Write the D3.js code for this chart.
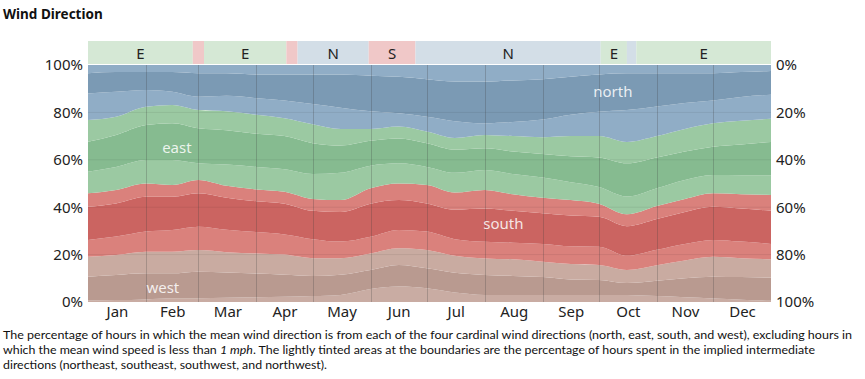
<!DOCTYPE html>
<html><head><meta charset="utf-8">
<script src="https://cdn.jsdelivr.net/npm/d3@7/dist/d3.min.js"></script>
<style>
html,body{margin:0;padding:0;background:#fff;}
svg{display:block;font-family:"Noto Sans","Open Sans",sans-serif;}
</style></head>
<body>
<svg id="chart" width="865" height="379"></svg>
<script>
// ---- data (percent of hours) ----
const days = [0,15,31,45,59,74,90,105,120,135,151,166,181,196,212,227,243,258,273,288,304,319,334,349,365];
// bottom to top of the stack
const northwestWest  = [0.6,0.8,1.1,1.6,1.6,1.8,2.0,2.2,2.5,3.0,5.5,6.5,5.8,4.0,3.0,3.0,3.0,3.0,3.0,3.0,2.5,2.0,1.5,1.0,0.5];
const west           = [10.1,10.6,11.0,10.5,11.2,10.7,10.0,9.3,8.5,8.5,8.0,9.1,8.4,8.3,8.4,8.0,7.5,6.5,6.3,5.0,6.5,8.0,9.2,9.5,9.8];
const southwestWest  = [8.4,8.4,9.1,9.1,9.1,8.5,8.5,8.5,7.5,7.0,7.0,7.1,7.7,7.2,7.0,7.0,6.5,6.5,6.3,5.5,6.5,7.5,8.4,8.0,7.7];
const southwestSouth = [7.1,7.8,8.5,9.2,9.9,9.5,9.0,8.5,8.0,7.0,7.0,7.7,7.8,7.0,7.0,7.0,7.5,7.5,7.7,6.0,6.5,7.0,7.1,7.0,6.5];
const south          = [14.0,14.0,14.7,14.0,14.1,13.5,13.0,13.0,12.0,12.5,14.0,12.6,11.9,12.5,14.1,13.5,13.0,13.0,12.7,12.5,13.0,13.5,14.0,14.0,14.0];
const southeastSouth = [5.7,5.7,5.6,5.0,5.6,5.0,5.0,5.0,5.0,5.0,6.5,7.0,7.8,7.2,7.8,7.0,6.5,6.5,5.5,5.0,5.5,5.5,5.7,6.0,6.7];
const southeastEast  = [9.1,9.7,9.9,10.5,7.0,9.0,9.5,9.5,10.5,11.5,9.5,8.5,7.6,8.3,8.4,8.5,8.5,7.5,7.0,7.5,7.5,8.0,7.7,8.0,8.3];
const east           = [12.6,13.5,14.8,15.5,14.8,14.5,14.0,14.0,13.0,11.5,10.5,10.5,10.0,9.8,9.2,9.5,10.0,11.0,12.5,14.0,13.0,12.0,11.9,13.0,14.0];
const northeastEast  = [9.2,7.7,7.7,7.7,7.7,8.0,8.0,7.5,8.0,7.0,5.0,5.0,4.9,4.9,5.6,6.5,7.0,8.5,9.0,9.0,9.0,9.5,9.9,10.0,9.8];
const northeastNorth = [11.2,10.5,7.1,5.6,5.6,6.5,7.0,7.5,8.5,9.0,7.5,5.6,6.3,7.1,4.9,6.0,7.5,9.0,10.3,13.5,12.5,11.0,9.6,10.0,10.2];
const north          = [8.5,8.3,7.5,8.3,9.9,9.5,10.0,11.0,12.5,14.0,15.0,15.4,15.8,16.7,17.6,17.5,17.0,16.0,15.7,15.5,14.0,12.5,11.5,10.5,10.0];
const northwestNorth = [3.5,3.0,3.0,3.0,3.5,3.5,4.0,4.0,4.0,4.0,4.5,5.0,6.0,7.0,7.0,6.5,6.0,5.0,4.0,3.5,3.5,3.5,3.5,3.0,2.5];

const months = ["Jan","Feb","Mar","Apr","May","Jun","Jul","Aug","Sep","Oct","Nov","Dec"];
const monthStarts = [0,31,59,90,120,151,181,212,243,273,304,334,365];
const yTicks = [0,20,40,60,80,100];

// dominant direction band
const bandStart = [0,56,62,106,112,150,175,274,288,293];
const bandEnd   = [56,62,106,112,150,175,274,288,293,365];
const bandDir   = ["E","S","E","S","N","S","N","E","N","E"];

// area labels
const labelText = ["north","east","south","west"];
const labelDay  = [280.5,47.5,222,40];
const labelPct  = [89,65.4,33.3,6.3];

// ---- styles ----
const layerKeys = ["northwestWest","west","southwestWest","southwestSouth","south","southeastSouth",
                   "southeastEast","east","northeastEast","northeastNorth","north","northwestNorth"];
const layerData = {northwestWest,west,southwestWest,southwestSouth,south,southeastSouth,
                   southeastEast,east,northeastEast,northeastNorth,north,northwestNorth};
const layerColor = {
  northwestWest:"#c9aca3", west:"#b99a90", southwestWest:"#c9aba1",
  southwestSouth:"#da817c", south:"#cb6461", southeastSouth:"#da817c",
  southeastEast:"#9bc9a2", east:"#86bb90", northeastEast:"#9bc9a2",
  northeastNorth:"#90adc6", north:"#7b9ab4", northwestNorth:"#90adc6"
};
const bandColor = {E:"#d5e8d5", S:"#f0c8c8", N:"#d3dee7"};

const svg = d3.select("#chart");
const X0 = 88, X1 = 771, Y0 = 302, Y1 = 65;
const x = d3.scaleLinear().domain([0,365]).range([X0,X1]);
const y = d3.scaleLinear().domain([0,100]).range([Y0,Y1]);
const yR = d3.scaleLinear().domain([0,100]).range([Y1,Y0]);

const table = days.map((d,i)=>{
  const r = {day:d};
  layerKeys.forEach(k=>r[k]=layerData[k][i]);
  return r;
});
const series = d3.stack().keys(layerKeys)(table);
const area = d3.area()
  .x(d=>x(d.data.day)).y0(d=>y(d[0])).y1(d=>y(d[1]))
  .curve(d3.curveMonotoneX);

svg.append("g").selectAll("path").data(series).join("path")
  .attr("d",area).attr("fill",d=>layerColor[d.key]);

// grid
svg.append("g").selectAll("line").data(yTicks.filter(t=>t>0&&t<100)).join("line")
  .attr("x1",X0).attr("x2",X1).attr("y1",d=>y(d)).attr("y2",d=>y(d))
  .attr("stroke","rgba(0,0,0,0.07)").attr("stroke-width",1);
svg.append("g").selectAll("line").data(monthStarts.slice(1,-1)).join("line")
  .attr("x1",d=>Math.round(x(d))+0.5).attr("x2",d=>Math.round(x(d))+0.5)
  .attr("y1",Y1).attr("y2",Y0)
  .attr("stroke","rgba(60,60,60,0.25)").attr("stroke-width",1);

// area labels
svg.append("g").selectAll("text").data(labelText).join("text")
  .attr("x",(d,i)=>x(labelDay[i])).attr("y",(d,i)=>y(labelPct[i]))
  .attr("text-anchor","middle").attr("dominant-baseline","central")
  .attr("font-size",15).attr("fill","rgba(255,255,255,0.85)").text(d=>d);

// top band
const band = svg.append("g");
band.selectAll("rect").data(bandDir).join("rect")
  .attr("x",(d,i)=>x(bandStart[i])).attr("width",(d,i)=>x(bandEnd[i])-x(bandStart[i]))
  .attr("y",41).attr("height",23).attr("fill",d=>bandColor[d]);
bandDir.forEach((d,i)=>{
  const w = x(bandEnd[i])-x(bandStart[i]);
  if (w>20) band.append("text")
    .attr("x",(x(bandStart[i])+x(bandEnd[i]))/2).attr("y",52.5)
    .attr("text-anchor","middle").attr("dominant-baseline","central")
    .attr("font-size",15).attr("fill","#222").text(d);
});

// axes
const fmt = d=>d+"%";
const gl = svg.append("g").attr("transform",`translate(${X0},0)`)
  .call(d3.axisLeft(y).tickValues(yTicks).tickFormat(fmt).tickSize(0).tickPadding(5));
const gr = svg.append("g").attr("transform",`translate(${X1},0)`)
  .call(d3.axisRight(yR).tickValues(yTicks).tickFormat(fmt).tickSize(0).tickPadding(5));
const monthMid = months.map((m,i)=>(monthStarts[i]+monthStarts[i+1])/2);
const gb = svg.append("g").attr("transform",`translate(0,${Y0})`)
  .call(d3.axisBottom(x).tickValues(monthMid).tickFormat((d,i)=>months[i]).tickSize(0).tickPadding(4));
[gl,gr,gb].forEach(g=>{
  g.select(".domain").remove();
  g.selectAll("text").attr("font-size",15).attr("fill","#222")
   .attr("font-family","'Noto Sans','Open Sans',sans-serif");
});

// title
svg.append("text").attr("x",3).attr("y",19).attr("font-size",13.5)
  .attr("font-weight","bold").attr("fill","#111").text("Wind Direction");

// caption
const cap = svg.append("g").attr("font-size",12).attr("fill","#111")
  .attr("font-family","Lato,'Noto Sans',sans-serif");
const l1 = cap.append("text").attr("x",3).attr("y",339)
  .text("The percentage of hours in which the mean wind direction is from each of the four cardinal wind directions (north, east, south, and west), excluding hours in");
const l2 = cap.append("text").attr("x",3).attr("y",354);
l2.append("tspan").text("which the mean wind speed is less than ");
l2.append("tspan").attr("font-style","italic").text("1 mph");
l2.append("tspan").text(". The lightly tinted areas at the boundaries are the percentage of hours spent in the implied intermediate");
const l3 = cap.append("text").attr("x",3).attr("y",369)
  .text("directions (northeast, southeast, southwest, and northwest).");
[[l1,849],[l2,812],[l3,324]].forEach(([t,w])=>{
  t.attr("textLength",w).attr("lengthAdjust","spacingAndGlyphs");
});
</script>
</body></html>
